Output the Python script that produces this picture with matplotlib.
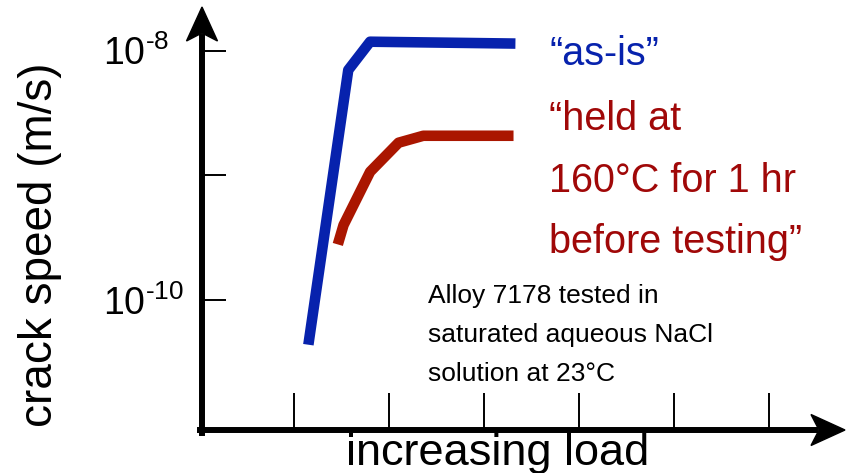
import matplotlib
matplotlib.use("Agg")
import matplotlib.pyplot as plt
from matplotlib.patches import Polygon

plt.rcParams['font.family'] = ['Liberation Sans', 'DejaVu Sans']
plt.rcParams['mathtext.fontset'] = 'custom'
plt.rcParams['mathtext.rm'] = 'Liberation Sans'
plt.rcParams['mathtext.it'] = 'Liberation Sans:italic'

# data: load in tick units, crack speed in m/s
as_is_load = [1.15, 1.57, 1.80, 3.33]
as_is_speed = [4.4e-11, 7.0e-9, 1.18e-8, 1.14e-8]

held_load = [1.46, 1.52, 1.80, 2.10, 2.36, 3.31]
held_speed = [2.8e-10, 4.0e-10, 1.07e-9, 1.83e-9, 2.08e-9, 2.08e-9]

speed_ticks = [1e-10, 1e-9, 1e-8]
speed_labels = [r'$\mathregular{10^{\text{-}10}}$', '', r'$\mathregular{10^{\text{-}8}}$']
load_ticks = [1, 2, 3, 4, 5, 6]

note_lines = ['Alloy 7178 tested in', 'saturated aqueous NaCl', 'solution at 23°C']
held_lines = ['“held at', '160°C for 1 hr', 'before testing”']

blue = '#0722ad'
red_line = '#aa1600'
red_text = '#a00808'

W, H = 847, 473
fig = plt.figure(figsize=(W / 100, H / 100), dpi=100)

# axes box in pixels (origin of the arrows and their tips)
ox, oy = 202, 430
tip_x, tip_y = 845, 7
ax = fig.add_axes([ox / W, 1 - oy / H, (tip_x - ox) / W, (oy - tip_y) / H])
ax.set_yscale('log')
ax.set_ylim(10 ** -11.04, 10 ** -7.65)
ax.set_xlim(0.03, 6.8)
for s in ax.spines.values():
    s.set_visible(False)

ax.plot(as_is_load, as_is_speed, color=blue, lw=7.6,
        solid_capstyle='butt', solid_joinstyle='round')
ax.plot(held_load, held_speed, color=red_line, lw=7.6,
        solid_capstyle='butt', solid_joinstyle='round')

ax.set_yticks(speed_ticks)
ax.set_yticklabels(speed_labels)
ax.yaxis.set_minor_locator(matplotlib.ticker.NullLocator())
ax.tick_params(axis='y', direction='in', length=17.5, width=1.4, pad=71,
               labelsize=27)
for lbl in ax.get_yticklabels():
    lbl.set_ha('left')

ax.set_xticks(load_ticks)
ax.set_xticklabels([])
ax.tick_params(axis='x', direction='in', length=26.5, width=1.4)


# axis arrows drawn in pixel space
def px(x, y):
    return (x / W, 1 - y / H)


fig.add_artist(plt.Line2D(*zip(px(ox, oy + 3), px(ox, tip_y + 30)),
                          transform=fig.transFigure, color='black', lw=4.3))
fig.add_artist(plt.Line2D(*zip(px(ox - 2, oy), px(tip_x - 30, oy)),
                          transform=fig.transFigure, color='black', lw=4.3))
fig.add_artist(Polygon([px(ox, tip_y), px(ox - 15.5, tip_y + 34),
                        px(ox, tip_y + 26), px(ox + 15.5, tip_y + 34)],
                       closed=True, transform=fig.transFigure, color='black'))
fig.add_artist(Polygon([px(tip_x, oy), px(tip_x - 34, oy - 15.5),
                        px(tip_x - 26, oy), px(tip_x - 34, oy + 15.5)],
                       closed=True, transform=fig.transFigure, color='black'))

# labels
fig.text(*px(498, 465), 'increasing load', ha='center', va='baseline',
         fontsize=32.5)
fig.text(*px(40, 245), 'crack speed (m/s)', ha='center', va='center',
         rotation=90, fontsize=33)

fig.text(*px(549, 65), '“as-is”', color=blue, fontsize=28.5, va='baseline')
for i, line in enumerate(held_lines):
    fig.text(*px(549, 130 + 61.5 * i), line, color=red_text, fontsize=28.5,
             va='baseline')
for i, line in enumerate(note_lines):
    fig.text(*px(428, 303 + 39 * i), line, color='black', fontsize=19,
             va='baseline')

fig.savefig('out.png', dpi=100)
